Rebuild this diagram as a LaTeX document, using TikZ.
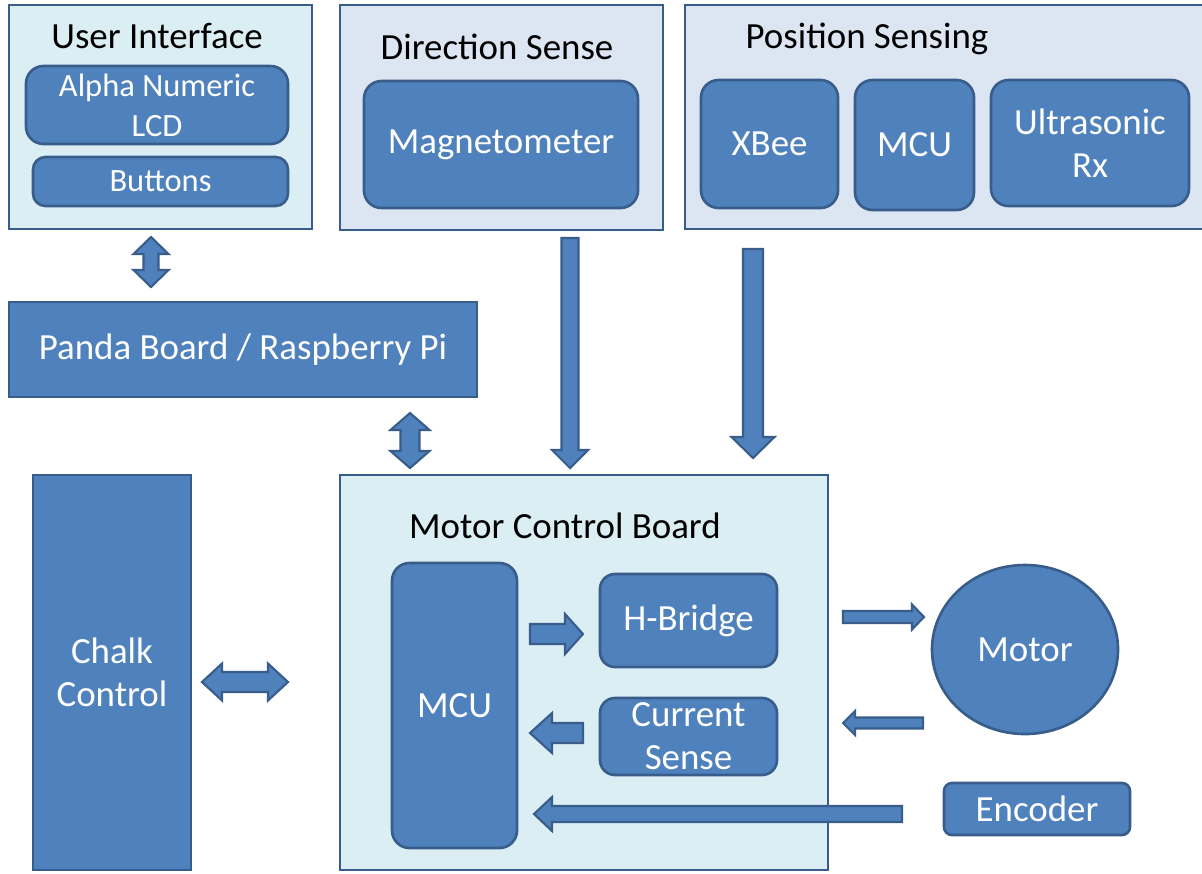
\documentclass[tikz,border=0pt]{standalone}
\usepackage{fontspec}
\setmainfont{Carlito}
\usetikzlibrary{shapes.geometric}

\definecolor{boxblue}{HTML}{4F81BD}
\definecolor{edgeblue}{HTML}{385D8A}
\definecolor{panelcyan}{HTML}{DBEEF4}
\definecolor{panelgrey}{HTML}{DCE6F2}

\tikzset{
  sz/.style 2 args={minimum width=#1*0.02cm, minimum height=#2*0.02cm},
  panel/.style={draw=edgeblue, line width=1.5pt, inner sep=0pt},
  cyanpanel/.style={panel, fill=panelcyan},
  greypanel/.style={panel, fill=panelgrey},
  unit/.style={draw=edgeblue, fill=boxblue, line width=1.5pt, inner sep=0pt,
    text=white, align=center, font=\fontsize{21}{24.4}\selectfont},
  roundunit/.style={unit, rounded corners=0.35cm},
  smallunit/.style={roundunit, font=\fontsize{18.5}{22.7}\selectfont},
  headtext/.style={inner sep=0pt, text=black, text height=13.4pt, text depth=0pt,
    font=\fontsize{21}{24.4}\selectfont},
  blockarrow/.style={draw=edgeblue, fill=boxblue, line width=1.2pt, line join=miter},
}

% single block arrow: start, angle, length, shaft half width, head half width, head length
\newcommand{\singlearrow}[6]{%
  \filldraw[blockarrow, shift={(#1)}, rotate=#2]
    (0,-#4) -- ({#3-#6},-#4) -- ({#3-#6},-#5) -- (#3,0) -- ({#3-#6},#5)
    -- ({#3-#6},#4) -- (0,#4) -- cycle;}
% double block arrow: start, angle, length, shaft half width, head half width, head length
\newcommand{\doublearrow}[6]{%
  \filldraw[blockarrow, shift={(#1)}, rotate=#2]
    (0,0) -- (#6,-#5) -- (#6,-#4) -- ({#3-#6},-#4) -- ({#3-#6},-#5) -- (#3,0)
    -- ({#3-#6},#5) -- ({#3-#6},#4) -- (#6,#4) -- (#6,#5) -- cycle;}

\begin{document}
\begin{tikzpicture}[x=0.02cm, y=-0.02cm]
  \clip (0,0) rectangle (1202,873);
  \fill[white] (0,0) rectangle (1202,873);

  % user interface
  \node[cyanpanel, sz={303}{224}] (ui) at (160.5,117) {};
  \node[headtext] (uititle) at (157,37) {User Interface};
  \node[smallunit, sz={262}{78}] (lcd) at (157,105) {Alpha Numeric\\LCD};
  \node[smallunit, sz={255}{49}, rounded corners=0.25cm] (buttons) at (160.5,181.5) {Buttons};

  % main board
  \node[unit, sz={468}{95}] (panda) at (243,349.5) {Panda Board / Raspberry Pi};

  % direction sense
  \node[greypanel, sz={323}{225}] (ds) at (501.5,117.5) {};
  \node[headtext] (dstitle) at (497,48) {Direction Sense};
  \node[roundunit, sz={274}{127}] (mag) at (501,144.5) {Magnetometer};

  % position sensing
  \node[greypanel, sz={530}{224}] (ps) at (950,117) {};
  \node[headtext] (pstitle) at (867,37) {Position Sensing};
  \node[roundunit, sz={137}{128}] (xbee) at (769.5,144) {XBee};
  \node[roundunit, sz={119}{130}] (psmcu) at (914.5,145) {MCU};
  \node[roundunit, sz={198}{126}] (ultra) at (1090,143) {Ultrasonic\\Rx};

  % chalk control
  \node[unit, sz={158}{395}] (chalk) at (112,672.5) {Chalk\\Control};

  % motor control board
  \node[cyanpanel, sz={488}{395}] (mcb) at (584,672.5) {};
  \node[headtext] (mcbtitle) at (565,527) {Motor Control Board};
  \node[roundunit, sz={125}{285}] (mcu) at (454.5,705.5) {MCU};
  \node[roundunit, sz={177}{93}, rounded corners=0.3cm] (hbridge) at (688.5,620.5) {H-Bridge};
  \node[roundunit, sz={177}{77}, rounded corners=0.3cm] (current) at (688.5,736.5) {Current\\Sense};

  % motor and encoder
  \node[unit, ellipse, sz={186}{169}] (motor) at (1025,649.5) {Motor};
  \node[unit, rounded corners=0.16cm, sz={186}{52}] (encoder) at (1037,809) {Encoder};

  % connector end points
  \coordinate (uiOut)    at (151,237);
  \coordinate (pandaOut) at (410,413);
  \coordinate (dsOut)    at (570,238);
  \coordinate (psOut)    at (753,249);
  \coordinate (mcuOut)   at (530,634);
  \coordinate (curOut)   at (583,733);
  \coordinate (mcbOut)   at (843,617);
  \coordinate (motorOut) at (923,723);
  \coordinate (encOut)   at (902,814);
  \coordinate (chalkOut) at (202,682);

  % connectors
  \doublearrow{uiOut}{-90}{50}{7.5}{17.5}{17}
  \doublearrow{pandaOut}{-90}{55}{9.5}{19.5}{17}
  \singlearrow{dsOut}{-90}{230}{8.5}{18}{18}
  \singlearrow{psOut}{-90}{209}{10}{21.5}{21}
  \singlearrow{mcuOut}{0}{53}{10}{20}{18}
  \singlearrow{curOut}{180}{53}{10}{20}{22}
  \singlearrow{mcbOut}{0}{81}{6}{12.5}{12}
  \singlearrow{motorOut}{180}{80}{5.5}{12}{12}
  \singlearrow{encOut}{180}{368}{8}{17}{18}
  \doublearrow{chalkOut}{0}{86}{10}{18.5}{20}
\end{tikzpicture}
\end{document}
